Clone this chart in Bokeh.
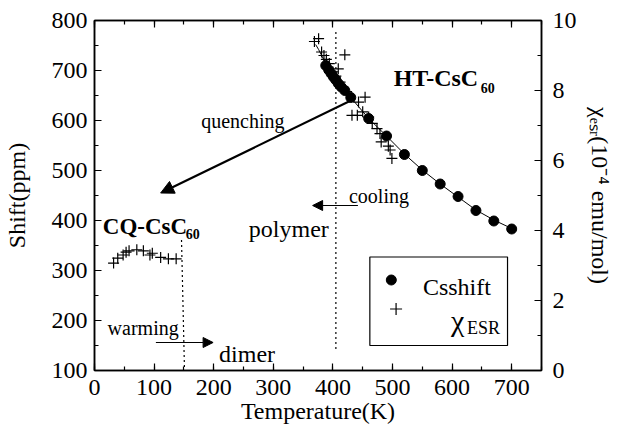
import math
from bokeh.plotting import figure
from bokeh.models import Range1d, LinearAxis, SingleIntervalTicker, Label, Arrow, NormalHead
from bokeh.embed import file_html
from bokeh.resources import INLINE

FONT = "Liberation Serif"

# ---- data ----
# Cs NMR shift (ppm) vs temperature (K)
shift_T = [388, 393, 397, 401, 405, 409, 414, 420, 430, 460, 490, 520, 550, 580, 610, 640, 670, 700]
shift_ppm = [710, 701, 694, 687, 681, 674, 667, 660, 646, 604, 569, 532, 500, 473, 448, 420, 399, 383]

# guide curve through the shift points
fit_T = [371, 376, 382, 388, 395, 405, 415, 430, 445, 460, 490, 520, 550, 580, 610, 640, 670, 700]
fit_ppm = [752, 742, 728, 714, 701, 684, 668, 646, 625, 604, 569, 533, 501, 473, 447, 421, 401, 384]

# ESR susceptibility (10^-4 emu/mol), high-temperature branch
chi_hi_T = [369, 376, 381, 385, 389, 394, 400, 405, 409, 412, 417, 420, 423,
            432, 441, 443, 450, 454, 460, 466, 474, 479, 481, 493, 496, 499]
chi_hi = [9.40, 9.48, 9.10, 9.00, 8.89, 8.77, 8.53, 8.41, 8.62, 8.24, 8.10, 9.02, 7.97,
          7.29, 7.29, 7.67, 7.39, 7.81, 7.24, 7.06, 6.91, 6.77, 6.53, 6.41, 6.30, 6.06]

# ESR susceptibility, low-temperature (quenched) branch
chi_lo_T = [32, 39, 48, 53, 58, 71, 82, 93, 97, 111, 124, 137]
chi_lo = [3.07, 3.21, 3.30, 3.38, 3.42, 3.45, 3.42, 3.30, 3.35, 3.23, 3.19, 3.19]

x_limits = (0, 750)
shift_limits = (100, 800)
chi_limits = (0, 10)

x_title = "Temperature(K)"
left_title = "Shift(ppm)"
right_title = "\u03c7\u2091\u209b\u1d63(10\u207b\u2074 emu/mol)"

# ---- figure ----
p = figure(width=615, height=430, x_range=Range1d(*x_limits), y_range=Range1d(*shift_limits),
           output_backend="svg", toolbar_location=None,
           min_border_left=94, min_border_right=71, min_border_top=20, min_border_bottom=60,
           background_fill_color="white", border_fill_color="white")
p.extra_y_ranges = {"chi": Range1d(*chi_limits)}
p.xgrid.visible = False
p.ygrid.visible = False
p.outline_line_color = "black"
p.outline_line_width = 1.5


def style(ax, standoff):
    ax.axis_line_color = "black"
    ax.axis_line_width = 1.5
    ax.major_tick_in = 7
    ax.major_tick_out = 0
    ax.minor_tick_in = 4
    ax.minor_tick_out = 0
    ax.major_tick_line_width = 1.2
    ax.minor_tick_line_width = 1.2
    ax.major_tick_line_color = "black"
    ax.minor_tick_line_color = "black"
    ax.major_label_text_font = FONT
    ax.major_label_text_font_size = "24px"
    ax.major_label_text_color = "black"
    ax.major_label_standoff = standoff
    ax.axis_label_text_font = FONT
    ax.axis_label_text_font_size = "24px"
    ax.axis_label_text_font_style = "normal"
    ax.axis_label_text_color = "black"


xa = p.xaxis[0]
xa.ticker = SingleIntervalTicker(interval=100, num_minor_ticks=2)
style(xa, 9)
xa.axis_label = x_title
xa.axis_label_standoff = 0

ya = p.yaxis[0]
ya.ticker = SingleIntervalTicker(interval=100, num_minor_ticks=2)
style(ya, 7)
ya.axis_label = left_title
ya.axis_label_standoff = 19

top = LinearAxis(ticker=SingleIntervalTicker(interval=100, num_minor_ticks=2))
style(top, 0)
top.major_label_text_font_size = "1px"
top.major_label_text_color = None
p.add_layout(top, "above")

right = LinearAxis(y_range_name="chi", ticker=SingleIntervalTicker(interval=2, num_minor_ticks=2))
style(right, 11)
right.axis_label = right_title
right.axis_label_standoff = 7
p.add_layout(right, "right")

# ---- data marks ----
p.line(fit_T, fit_ppm, line_color="black", line_width=1)
p.scatter(shift_T, shift_ppm, marker="circle", size=10, fill_color="black", line_color="black")
p.scatter(chi_hi_T, chi_hi, y_range_name="chi", marker="cross", size=11,
          line_color="black", line_width=1.2)
p.scatter(chi_lo_T, chi_lo, y_range_name="chi", marker="cross", size=11,
          line_color="black", line_width=1.2)

# dotted transition guides
p.line([405, 405], [777, 138], line_color="black", line_width=1.2, line_dash="2 3")
p.line([146, 151], [361, 100], line_color="black", line_width=1.2, line_dash="2 3")

# arrows
p.add_layout(Arrow(end=NormalHead(size=13, fill_color="black", line_color="black"),
                   x_start=432, y_start=641, x_end=111, y_end=455,
                   line_color="black", line_width=2.2))
p.add_layout(Arrow(end=NormalHead(size=10, fill_color="black", line_color="black"),
                   x_start=442, y_start=430, x_end=366, y_end=430,
                   line_color="black", line_width=1.2))
p.add_layout(Arrow(end=NormalHead(size=10, fill_color="black", line_color="black"),
                   x_start=103, y_start=156, x_end=199, y_end=156,
                   line_color="black", line_width=1.2))


def lab(x, y, text, size, bold=False, align="left", angle=0.0):
    p.add_layout(Label(x=x, y=y, text=text, text_font=FONT, text_font_size=size,
                       text_font_style="bold" if bold else "normal", text_color="black",
                       text_align=align, text_baseline="alphabetic", angle=angle))


lab(502, 686, "HT-CsC", "24px", bold=True)
lab(648, 666, "60", "14px", bold=True)
lab(14, 388, "CQ-CsC", "23px", bold=True)
lab(153, 373, "60", "14px", bold=True)
lab(179, 599, "quenching", "20px")
lab(427, 450, "cooling", "20px")
lab(259, 383, "polymer", "24px")
lab(22, 185, "warming", "20px")
lab(209, 133, "dimer", "24px")

# legend box
p.quad(left=[462], right=[693], bottom=[150], top=[327], fill_color="white",
       line_color="black", line_width=1.2)
p.scatter([498], [281], marker="circle", size=10, fill_color="black", line_color="black")
lab(551, 268, "Csshift", "24px")
p.scatter([506], [223], marker="cross", size=12, line_color="black", line_width=1.2)
lab(598, 200, "\u03c7", "30px")
lab(625, 186, "ESR", "18px")

open("out.html", "w").write(file_html(p, INLINE))
